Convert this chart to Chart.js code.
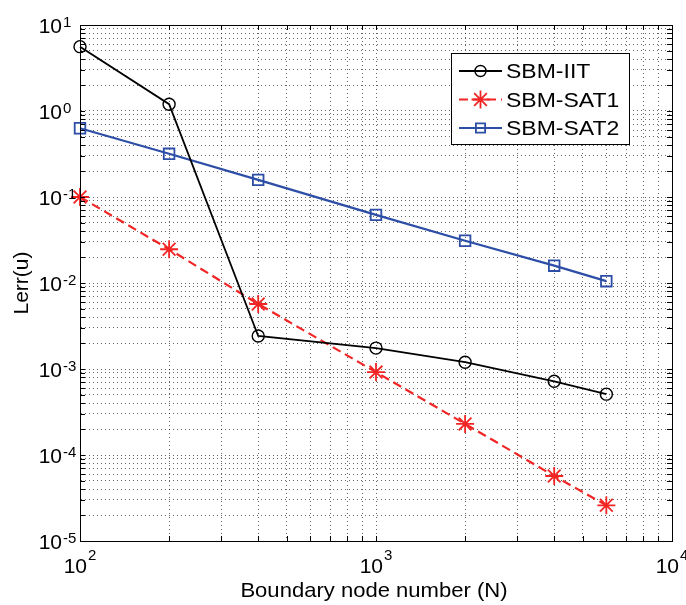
<!DOCTYPE html>
<html>
<head>
<meta charset="utf-8">
<script src="https://cdn.jsdelivr.net/npm/chart.js@4/dist/chart.umd.min.js"></script>
<style>
  html, body { margin: 0; padding: 0; background: #ffffff; }
  #c { display: block; }
</style>
</head>
<body>
<canvas id="c" width="686" height="605" style="width:686px;height:605px"></canvas>
<script>
// ---- data ----
const nodes = [100, 200, 400, 1000, 2000, 4000, 6000];
const iit   = [5.6, 1.2, 0.00242, 0.00175, 0.0012, 0.00072, 0.00051];
const sat1  = [0.1, 0.0247, 0.0057, 0.00092, 0.00023, 0.000057, 0.000026];
const sat2  = [0.63, 0.318, 0.158, 0.062, 0.031, 0.0159, 0.0105];
const seriesNames = ['SBM-IIT', 'SBM-SAT1', 'SBM-SAT2'];

// ---- axes ----
const xMajorTicks = [1e2, 1e3, 1e4];
const yMajorTicks = [1e-5, 1e-4, 1e-3, 1e-2, 1e-1, 1e0, 1e1];
const xTitle = 'Boundary node number (N)';
const yTitle = 'Lerr(u)';

const FONT = "'Liberation Sans', Arial, Helvetica, sans-serif";

function logTicks(majors) {
  const out = [];
  for (let i = 0; i < majors.length; i++) {
    out.push({ value: majors[i], major: true });
    if (i < majors.length - 1) {
      for (let k = 2; k <= 9; k++) out.push({ value: majors[i] * k, major: false });
    }
  }
  return out;
}

function pts(ys) { return nodes.map((x, i) => ({ x: x, y: ys[i] })); }

function expOf(v) { return String(Math.round(Math.log10(v))); }

const decor = {
  id: 'decor',
  afterDatasetsDraw(chart) {
    const ctx = chart.ctx, a = chart.chartArea;
    const xs = chart.scales.x, ys = chart.scales.y;
    ctx.save();
    ctx.strokeStyle = '#000';
    ctx.lineWidth = 1;
    // inner tick marks
    const L = 5;
    ctx.beginPath();
    xs.ticks.forEach(t => {
      const p = Math.round(xs.getPixelForValue(t.value)) + 0.5;
      ctx.moveTo(p, a.bottom); ctx.lineTo(p, a.bottom - L);
      ctx.moveTo(p, a.top); ctx.lineTo(p, a.top + L);
    });
    ys.ticks.forEach(t => {
      const p = Math.round(ys.getPixelForValue(t.value)) + 0.5;
      ctx.moveTo(a.left, p); ctx.lineTo(a.left + L, p);
      ctx.moveTo(a.right, p); ctx.lineTo(a.right - L, p);
    });
    ctx.stroke();
    // box
    ctx.strokeRect(Math.round(a.left) + 0.5, Math.round(a.top) + 0.5,
                   Math.round(a.right - a.left), Math.round(a.bottom - a.top));
    ctx.restore();
  },
  afterDraw(chart) {
    const ctx = chart.ctx, a = chart.chartArea;
    const xs = chart.scales.x, ys = chart.scales.y;
    ctx.save();
    ctx.fillStyle = '#000';
    // y tick labels
    yMajorTicks.forEach(v => {
      const p = ys.getPixelForValue(v);
      ctx.font = '21px ' + FONT;
      ctx.textAlign = 'right';
      ctx.textBaseline = 'alphabetic';
      ctx.fillText('10', a.left - 18, p + 8);
      ctx.font = '15px ' + FONT;
      ctx.textAlign = 'left';
      ctx.fillText(expOf(v), a.left - 17, p + 2);
    });
    // x tick labels
    xMajorTicks.forEach(v => {
      const p = xs.getPixelForValue(v);
      ctx.font = '21px ' + FONT;
      const w1 = ctx.measureText('10').width;
      ctx.font = '15px ' + FONT;
      const e = expOf(v);
      const w2 = ctx.measureText(e).width;
      const x0 = p - (w1 + w2 + 1) / 2;
      ctx.textAlign = 'left';
      ctx.textBaseline = 'alphabetic';
      ctx.font = '21px ' + FONT;
      ctx.fillText('10', x0, a.bottom + 32);
      ctx.font = '15px ' + FONT;
      ctx.fillText(e, x0 + w1 + 1, a.bottom + 19);
    });
    // axis titles
    ctx.font = '21px ' + FONT;
    ctx.textAlign = 'center';
    ctx.textBaseline = 'alphabetic';
    ctx.save();
    ctx.translate((a.left + a.right) / 2 - 2, a.bottom + 56);
    ctx.scale(1.05, 1);
    ctx.fillText(xTitle, 0, 0);
    ctx.restore();
    ctx.save();
    ctx.translate(28, (a.top + a.bottom) / 2);
    ctx.rotate(-Math.PI / 2);
    ctx.fillText(yTitle, 0, 0);
    ctx.restore();

    // legend box
    const bx = 451, by = 53, bw = 178, bh = 91;
    ctx.fillStyle = '#fff';
    ctx.fillRect(bx, by, bw, bh);
    ctx.strokeStyle = '#000';
    ctx.lineWidth = 1;
    ctx.strokeRect(bx + 0.5, by + 0.5, bw, bh);
    chart.data.datasets.forEach((ds, i) => {
      const cy = 71 + i * 28.5;
      ctx.save();
      ctx.strokeStyle = ds.borderColor;
      ctx.lineWidth = ds.borderWidth;
      ctx.setLineDash(ds.borderDash || []);
      ctx.beginPath();
      ctx.moveTo(459, cy); ctx.lineTo(502, cy);
      ctx.stroke();
      ctx.setLineDash([]);
      ctx.fillStyle = 'rgba(0,0,0,0)';
      ctx.strokeStyle = ds.pointBorderColor;
      ctx.lineWidth = ds.pointBorderWidth;
      Chart.helpers.drawPoint(ctx, {
        pointStyle: ds.pointStyle, radius: ds.legendRadius,
        borderWidth: ds.pointBorderWidth, rotation: 0
      }, 480.5, cy);
      ctx.restore();
      ctx.fillStyle = '#000';
      ctx.font = '20px ' + FONT;
      ctx.textAlign = 'left';
      ctx.textBaseline = 'alphabetic';
      ctx.save();
      ctx.translate(506, cy + 7);
      ctx.scale(1.15, 1);
      ctx.fillText(ds.label, 0, 0);
      ctx.restore();
    });
    ctx.restore();
  }
};

const gridColor = 'rgba(0,0,0,0.6)';

new Chart(document.getElementById('c'), {
  type: 'line',
  data: {
    datasets: [
      {
        label: seriesNames[0], data: pts(iit),
        borderColor: '#000000', backgroundColor: 'rgba(0,0,0,0)',
        borderWidth: 1.8, pointStyle: 'circle', pointRadius: 6, legendRadius: 5.5,
        pointBorderWidth: 1.4, pointBorderColor: '#000000',
        pointBackgroundColor: 'rgba(0,0,0,0)', clip: false, tension: 0
      },
      {
        label: seriesNames[1], data: pts(sat1),
        borderColor: '#f22525', backgroundColor: 'rgba(0,0,0,0)',
        borderWidth: 2.2, borderDash: [9, 5], pointStyle: 'star', pointRadius: 9, legendRadius: 9,
        pointBorderWidth: 1.8, pointBorderColor: '#f22525',
        pointBackgroundColor: 'rgba(0,0,0,0)', clip: false, tension: 0
      },
      {
        label: seriesNames[2], data: pts(sat2),
        borderColor: '#2d4ea6', backgroundColor: 'rgba(0,0,0,0)',
        borderWidth: 2.2, pointStyle: 'rect', pointRadius: 7.5, legendRadius: 6.5,
        pointBorderWidth: 1.8, pointBorderColor: '#2d4ea6',
        pointBackgroundColor: 'rgba(0,0,0,0)', clip: false, tension: 0
      }
    ]
  },
  options: {
    responsive: false,
    devicePixelRatio: 1,
    animation: false,
    layout: { padding: { left: 0, right: 14, top: 25, bottom: 0 } },
    plugins: { legend: { display: false }, tooltip: { enabled: false } },
    scales: {
      x: {
        type: 'logarithmic', min: 100, max: 10000,
        afterBuildTicks: s => { s.ticks = logTicks(xMajorTicks); },
        afterFit: s => { s.height = 64; },
        ticks: { display: false },
        grid: { color: gridColor, lineWidth: 1, drawTicks: false },
        border: { display: true, color: '#000', width: 1, dash: [1, 3] }
      },
      y: {
        type: 'logarithmic', min: 1e-5, max: 10,
        afterBuildTicks: s => { s.ticks = logTicks(yMajorTicks); },
        afterFit: s => { s.width = 80; },
        ticks: { display: false },
        grid: { color: gridColor, lineWidth: 1, drawTicks: false },
        border: { display: true, color: '#000', width: 1, dash: [1, 3] }
      }
    }
  },
  plugins: [decor]
});
</script>
</body>
</html>
